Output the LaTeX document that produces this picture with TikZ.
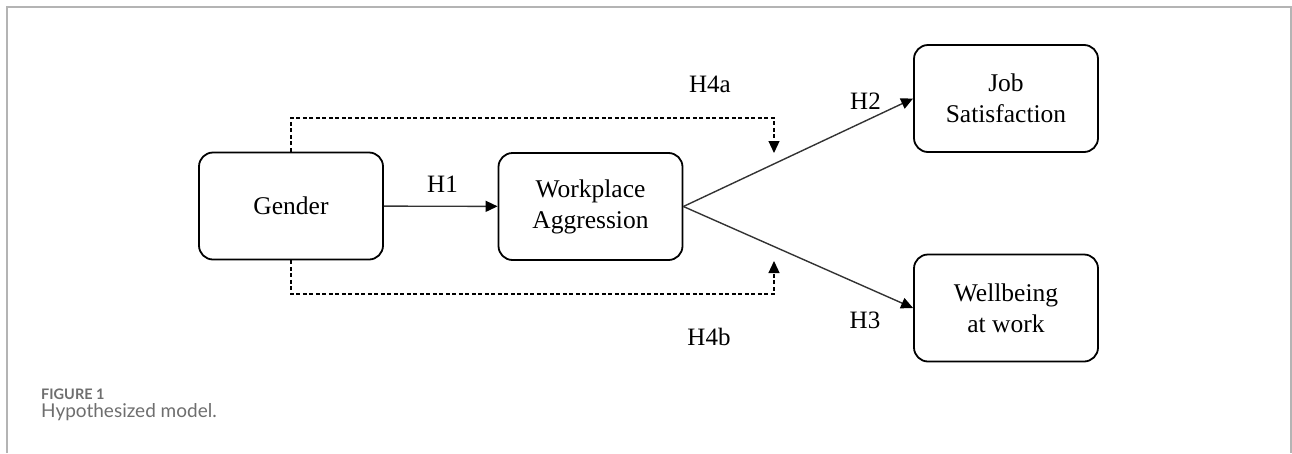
\documentclass[tikz,border=0pt]{standalone}
\usepackage{fontspec}
\setmainfont{Liberation Serif}
\newfontfamily\capfont{Lato}
\usepackage{xcolor}
\usepackage{tikz}
\usetikzlibrary{arrows.meta}

\definecolor{framegray}{HTML}{B4B4B4}
\definecolor{capgray}{HTML}{6E6E6E}
\definecolor{linegray}{HTML}{333333}

\tikzset{
	varbox/.style={draw, line width=1.8pt, rounded corners=14pt, minimum width=184pt,
		minimum height=107pt, align=center, font=\fontsize{25.5}{31}\selectfont},
	hyp/.style={anchor=base, font=\fontsize{25}{30}\selectfont},
	conn/.style={draw=linegray, line width=1.4pt, -{Triangle[length=12pt,width=11pt,color=black]}},
	dashline/.style={line width=1.2pt, dash pattern=on 4pt off 2.5pt, -{Triangle[length=12pt,width=11pt]}}
}

\begin{document}
\begin{tikzpicture}[x=1pt, y=-1pt]
			\useasboundingbox (0,0) rectangle (1292,453);

			\begin{scope}
				\draw[framegray, line width=1.5pt] (7,453) -- (7,7) -- (1291,7) -- (1291,453);
			\end{scope}

			\begin{scope}
				\node[varbox] (gender) at (291,206) {Gender};
				\node[varbox] (wpa) at (590.5,206.5) {Workplace\\Aggression};
				\node[varbox] (jobsat) at (1006,98.5) {Job\\Satisfaction};
				\node[varbox] (wellb) at (1006,308) {Wellbeing\\at work};
			\end{scope}

			\begin{scope}
				\draw[conn] (gender) -- (wpa);
				\draw[conn] (wpa.east) -- (jobsat.west);
				\draw[conn] (wpa.east) -- (wellb.west);
			\end{scope}

			\begin{scope}
				\coordinate (topturn) at (774,118);
				\coordinate (toptip) at (774,153);
				\coordinate (botturn) at (774,294);
				\coordinate (bottip) at (774,261);
				\draw[dashline] (gender.north) |- (topturn) -- (toptip);
				\draw[dashline] (gender.south) |- (botturn) -- (bottip);
			\end{scope}

			\begin{scope}
				\node[hyp] (hone) at (442.5,192) {H1};
				\node[hyp] (htwo) at (865.5,109) {H2};
				\node[hyp] (hthree) at (865,328) {H3};
				\node[hyp] (hfoura) at (710,92) {H4a};
				\node[hyp] (hfourb) at (709,345) {H4b};
			\end{scope}

			\begin{scope}[capgray]
				\node[anchor=base west, inner sep=0pt, font=\capfont\bfseries\fontsize{14.5}{16}\selectfont] (figno) at (41,399) {FIGURE 1};
				\node[anchor=base west, inner sep=0pt, font=\capfont\fontsize{19}{22}\selectfont] (figcap) at (41,417) {Hypothesized model.};
			\end{scope}
		\end{tikzpicture}
\end{document}
